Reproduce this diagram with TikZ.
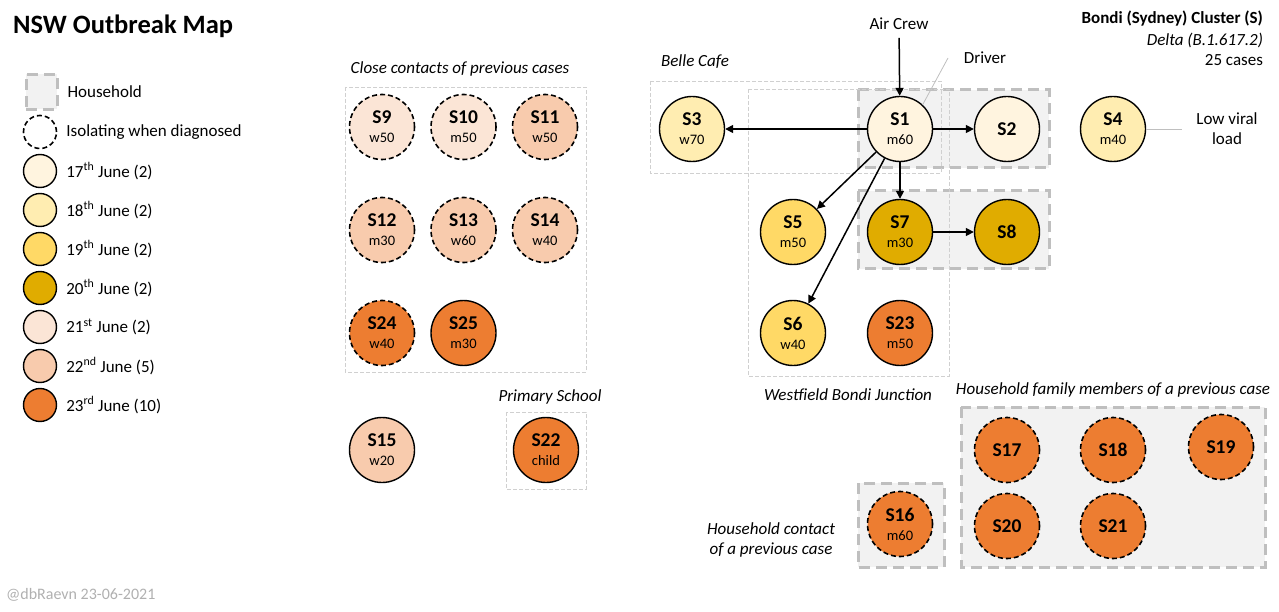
\documentclass[tikz,border=0pt]{standalone}
\usepackage{fontspec}
\setmainfont{Carlito}
\usetikzlibrary{arrows.meta,positioning}

\definecolor{d17}{HTML}{FFF4DF}
\definecolor{d18}{HTML}{FFEDB1}
\definecolor{d19}{HTML}{FFD966}
\definecolor{d20}{HTML}{E0AC00}
\definecolor{d21}{HTML}{FBE5D6}
\definecolor{d22}{HTML}{F8CBAD}
\definecolor{d23}{HTML}{ED7D31}
\definecolor{hhfill}{HTML}{F2F2F2}
\definecolor{hhline}{HTML}{BFBFBF}
\definecolor{zoneline}{HTML}{D0D0D0}
\definecolor{footgray}{HTML}{B0B0B0}

\newcommand{\caselbl}[2]{#1\\[-2pt]{\mdseries\fontsize{14.5}{15}\selectfont #2}}

\tikzset{
  case/.style={circle, draw, line width=1.4pt, minimum size=65pt, inner sep=0pt, align=center, font=\fontsize{19.5}{21}\selectfont\bfseries},
  iso/.style={line width=1.6pt, dash pattern=on 5pt off 3pt},
  house/.style={fill=hhfill, draw=hhline, line width=3pt, dash pattern=on 11pt off 6pt},
  zone/.style={draw=zoneline, line width=0.8pt, dash pattern=on 4pt off 2pt},
  tag/.style={font=\fontsize{17}{20}\selectfont, align=center},
  area/.style={font=\fontsize{17}{20}\selectfont\itshape, align=center},
  key/.style={circle, draw, line width=1.4pt, minimum size=33pt, inner sep=0pt},
  pointer/.style={draw=black!25, line width=0.8pt},
}

\begin{document}
\begin{tikzpicture}[x=1pt, y=-1pt, node distance=107pt, >={Triangle[length=8pt,width=8pt]}, line width=1.5pt]
    \useasboundingbox (0,0) rectangle (1279,612);

    % legend
    \node[anchor=west, font=\fontsize{26.5}{30}\selectfont\bfseries] (title) at (9,26) {NSW Outbreak Map};
    \node[house, minimum width=31pt, minimum height=35pt] (keyhh) at (41.5,92) {};
    \node[tag, right=5pt of keyhh] {Household};
    \node[key, iso] (keyiso) at (40,132) {};
    \node[tag, right=5pt of keyiso] {Isolating when diagnosed};
    \foreach \d/\sx/\n [count=\i from 0] in {17/th/2,18/th/2,19/th/2,20/th/2,21/st/2,22/nd/5,23/rd/10} {
        \node[key, fill=d\d] (k\d) at (40,171+39*\i) {};
        \node[tag, right=5pt of k\d] {\d\textsuperscript{\sx} June (\n)};
    }

    % households and places
    \draw[house] (858,90) rectangle (1049,168);
    \draw[house] (858,191) rectangle (1049,269);
    \draw[house] (858,483) rectangle (944,567);
    \draw[house] (961,407) rectangle (1265,567);
    \draw[zone] (650,81) rectangle (941,173);
    \draw[zone] (748,89) rectangle (949,376);
    \draw[zone] (345,87) rectangle (586,372);
    \draw[zone] (506,412) rectangle (586,489);

    \node[area] (belle) at (695,62) {Belle Cafe};
    \node[area] (westfield) at (848,395) {Westfield Bondi Junction};
    \node[area] (close) at (460,69) {Close contacts of previous cases};
    \node[area] (school) at (550,397) {Primary School};
    \node[area] (family) at (1113,390) {Household family members of a previous case};
    \node[area] (contact) at (771,540) {Household contact\\of a previous case};

    % cluster info
    \node[tag, anchor=east, font=\fontsize{17}{20}\selectfont\bfseries] (cluster) at (1267,19) {Bondi (Sydney) Cluster (S)};
    \node[area, anchor=east] (variant) at (1267,40) {Delta (B.1.617.2)};
    \node[tag, anchor=east] (count) at (1267,60) {25 cases};

    % Bondi cases
    \node[case, fill=d17] (S1) at (900,129) {\caselbl{S1}{m60}};
    \node[case, fill=d17, right of=S1] (S2) {S2};
    \node[case, fill=d18] (S3) at (692,129) {\caselbl{S3}{w70}};
    \node[case, fill=d18] (S4) at (1113,129) {\caselbl{S4}{m40}};
    \node[case, fill=d20, below of=S1, node distance=103pt] (S7) {\caselbl{S7}{m30}};
    \node[case, fill=d20, right of=S7] (S8) {S8};
    \node[case, fill=d19, left of=S7] (S5) {\caselbl{S5}{m50}};
    \node[case, fill=d19, below of=S5, node distance=101pt] (S6) {\caselbl{S6}{w40}};
    \node[case, fill=d23, below of=S7, node distance=101pt] (S23) {\caselbl{S23}{m50}};

    % close contacts
    \node[case, iso, fill=d21] (S9) at (382,127) {\caselbl{S9}{w50}};
    \node[case, iso, fill=d21, right of=S9, node distance=81.5pt] (S10) {\caselbl{S10}{m50}};
    \node[case, iso, fill=d22, right of=S10, node distance=81.5pt] (S11) {\caselbl{S11}{w50}};
    \node[case, iso, fill=d22] (S12) at (382,230) {\caselbl{S12}{m30}};
    \node[case, iso, fill=d22, right of=S12, node distance=81.5pt] (S13) {\caselbl{S13}{w60}};
    \node[case, iso, fill=d22, right of=S13, node distance=81.5pt] (S14) {\caselbl{S14}{w40}};
    \node[case, iso, fill=d23] (S24) at (382,333) {\caselbl{S24}{w40}};
    \node[case, fill=d23, right of=S24, node distance=81.5pt] (S25) {\caselbl{S25}{m30}};
    \node[case, fill=d22] (S15) at (382,450) {\caselbl{S15}{w20}};
    \node[case, fill=d23] (S22) at (546,450) {\caselbl{S22}{child}};

    % household members
    \node[case, iso, fill=d23] (S16) at (900,524) {\caselbl{S16}{m60}};
    \node[case, iso, fill=d23] (S17) at (1007,450) {S17};
    \node[case, iso, fill=d23, right of=S17, node distance=106pt] (S18) {S18};
    \node[case, iso, fill=d23] (S19) at (1221,447) {S19};
    \node[case, iso, fill=d23] (S20) at (1007,526) {S20};
    \node[case, iso, fill=d23, right of=S20, node distance=106pt] (S21) {S21};

    % notes
    \node[tag] (aircrew) at (899,24) {Air Crew};
    \node[tag] (driver) at (985,58) {Driver};
    \node[tag] (lowviral) at (1227,129) {Low viral\\load};
    \coordinate (drv) at (948,58);
    \draw[pointer] (S1.47) -- (drv);
    \draw[pointer, shorten >=10pt] (S4.east) -- (lowviral.west);

    \path[->] (aircrew) edge[shorten <=4pt] (S1)
          (S1) edge (S3)
          (S1) edge (S2)
          (S1) edge (S7)
          (S7) edge (S8)
          (S1) edge (S5)
          (S1) edge (S6);

    \node[anchor=west, text=footgray, font=\fontsize{16}{18}\selectfont] (credit) at (2,595) {@dbRaevn 23-06-2021};
\end{tikzpicture}
\end{document}
